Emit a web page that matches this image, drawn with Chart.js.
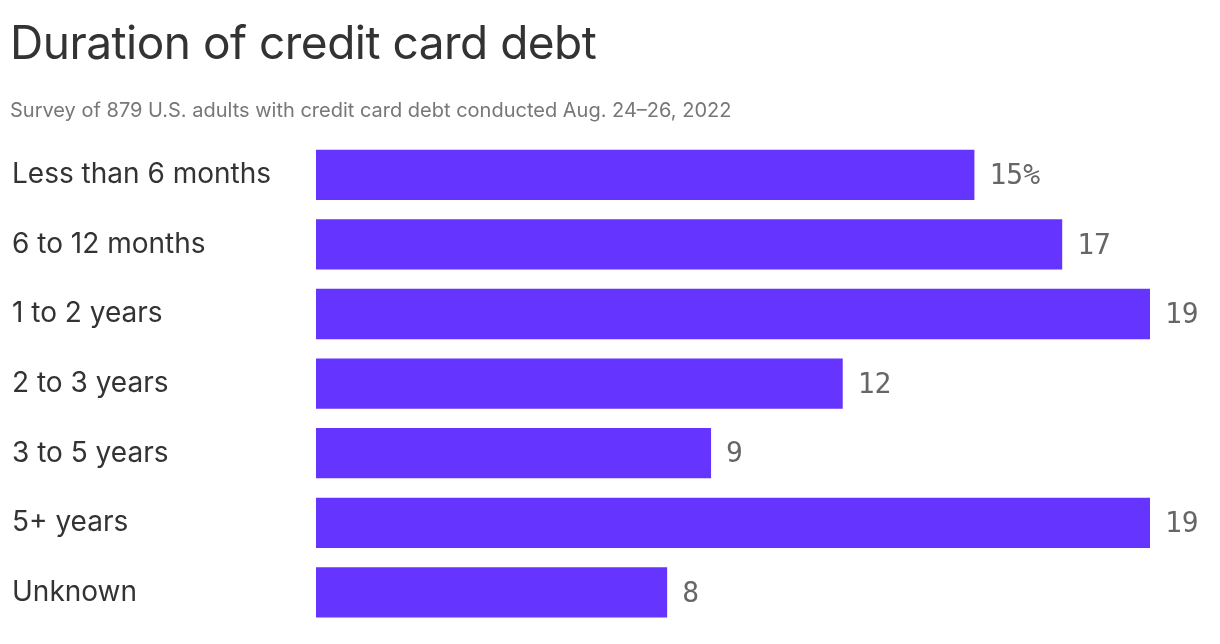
<!DOCTYPE html>
<html><head><meta charset="utf-8">
<script src="https://cdn.jsdelivr.net/npm/chart.js@4"></script>
<style>
body{margin:0;background:#fff;font-family:Inter,"Noto Sans",sans-serif;}
#wrap{position:relative;width:1220px;height:644px;}
canvas{position:absolute;left:0;top:0;}
#t{position:absolute;left:10px;top:14px;font-size:46px;color:#333;letter-spacing:-0.5px;}
#s{position:absolute;left:10px;top:98px;font-size:20px;color:#777;}
</style></head><body>
<div id="wrap"><canvas id="c" width="1220" height="644"></canvas>
<div id="t">Duration of credit card debt</div>
<div id="s">Survey of 879 U.S. adults with credit card debt conducted Aug. 24–26, 2022</div></div>
<script>
const categories=["Less than 6 months","6 to 12 months","1 to 2 years","2 to 3 years","3 to 5 years","5+ years","Unknown"];
const values=[15,17,19,12,9,19,8];
const valueLabels=["15%","17","19","12","9","19","8"];
const lbl={id:'lbl',afterDatasetsDraw(ch){const c=ch.ctx;const m=ch.getDatasetMeta(0);c.save();c.font='28px "DejaVu Sans Mono",monospace';c.fillStyle='#666';c.textBaseline='middle';
m.data.forEach((b,i)=>c.fillText(valueLabels[i],b.x+15,b.y+2));c.restore();}};
new Chart(document.getElementById('c'),{type:'bar',data:{labels:categories,datasets:[{data:values,backgroundColor:'#6634FF',categoryPercentage:1,barPercentage:52/72}]},
options:{indexAxis:'y',responsive:false,animation:false,layout:{padding:{top:140,right:70,left:12,bottom:0}},
plugins:{legend:{display:false},tooltip:{enabled:false}},
scales:{x:{display:false,min:0,max:19},y:{grid:{display:false},border:{display:false},
afterFit(s){s.width=304;},ticks:{crossAlign:'far',color:'#333',font:{size:28,family:'Inter'},padding:0}}}},plugins:[lbl]});
</script></body></html>
